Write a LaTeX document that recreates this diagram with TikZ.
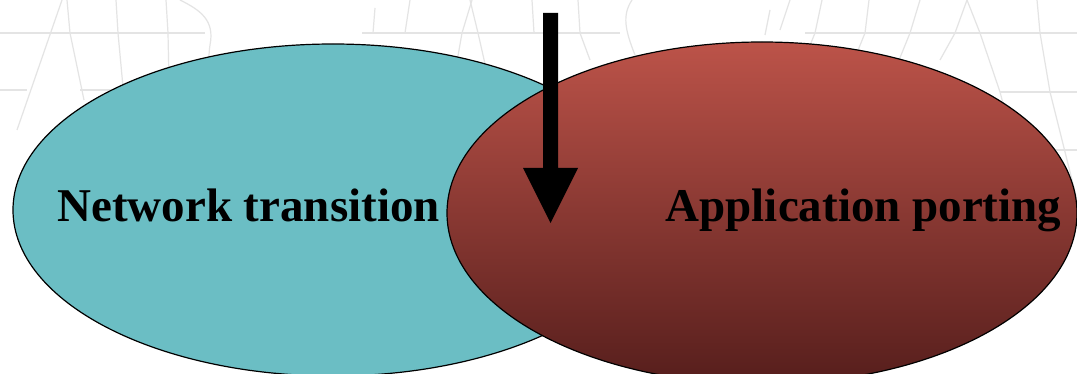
\documentclass[tikz,border=0pt]{standalone}
\usepackage{fontspec}
\setmainfont{Liberation Serif}
\usetikzlibrary{shapes.geometric}
\definecolor{tealfill}{RGB}{107,190,196}
\definecolor{redtop}{RGB}{188,83,73}
\definecolor{redbot}{RGB}{86,30,28}
\definecolor{wm}{RGB}{228,228,228}
\tikzset{
  blob/.style={ellipse, draw=black, line width=0.9pt, inner sep=0pt},
  lbl/.style={font=\fontsize{35.25}{40}\selectfont\bfseries, inner sep=0pt, anchor=base},
  wmline/.style={draw=wm, line width=0.9pt}
}
\begin{document}
\begin{tikzpicture}[x=0.75pt,y=-0.75pt]
\useasboundingbox (0,0) rectangle (1077,374);
\clip (0,0) rectangle (1077,374);
\fill[white] (0,0) rectangle (1077,374);
% faint watermark
\path[wmline] (0,33) -- (205,33);
\path[wmline] (362,33) -- (620,33);
\path[wmline] (805,33) -- (1077,33);
\path[wmline] (0,90) -- (27,90);
\path[wmline] (80,90) -- (150,90);
\path[wmline] (1000,92) -- (1077,92);
\path[wmline] (1040,150) -- (1077,150);
\path[wmline] (62,0) -- (17,130);
\path[wmline] (67,0) -- (70,33) -- (84,100);
\path[wmline] (116,0) -- (118,33) -- (127,130);
\path[wmline] (166,0) -- (168,33) -- (170,130);
\path[wmline] (180,0) .. controls (200,10) and (215,20) .. (210,45) .. controls (206,70) and (215,90) .. (213,110);
\path[wmline] (375,8) -- (373,33);
\path[wmline] (410,0) -- (405,33);
\path[wmline] (472,0) -- (462,33) -- (445,130);
\path[wmline] (470,0) -- (478,33) -- (500,130);
\path[wmline] (532,0) -- (534,33);
\path[wmline] (578,0) -- (580,33) -- (590,60);
\path[wmline] (632,0) .. controls (622,15) and (625,30) .. (635,55);
\path[wmline] (770,10) -- (765,35);
\path[wmline] (790,0) -- (780,30);
\path[wmline] (822,0) -- (815,33) -- (800,70);
\path[wmline] (869,0) -- (865,33) -- (850,70);
\path[wmline] (920,0) -- (910,33) -- (895,70);
\path[wmline] (967,0) -- (955,33) -- (940,60);
\path[wmline] (967,0) -- (980,33) -- (1000,92) -- (1010,130);
\path[wmline] (1037,0) -- (1040,33) -- (1050,92) -- (1077,200);
% ellipses
\node[blob, fill=tealfill, minimum width=480pt, minimum height=249pt] (net) at (333,210) {};
\node[blob, top color=redtop, bottom color=redbot, minimum width=472.5pt, minimum height=256.5pt] (app) at (762,213) {};
% labels
\node[lbl] (netlbl) at (248.5,221) {Network transition};
\node[lbl] (applbl) at (863.5,221) {Application porting};
% block arrow
\coordinate (atop) at (550.5,13);
\coordinate (atip) at (550.5,223);
\fill[black] (543,13) -- (558,13) -- (558,168) -- (578,168) -- (atip) -- (523,168) -- (543,168) -- cycle;
\end{tikzpicture}
\end{document}
